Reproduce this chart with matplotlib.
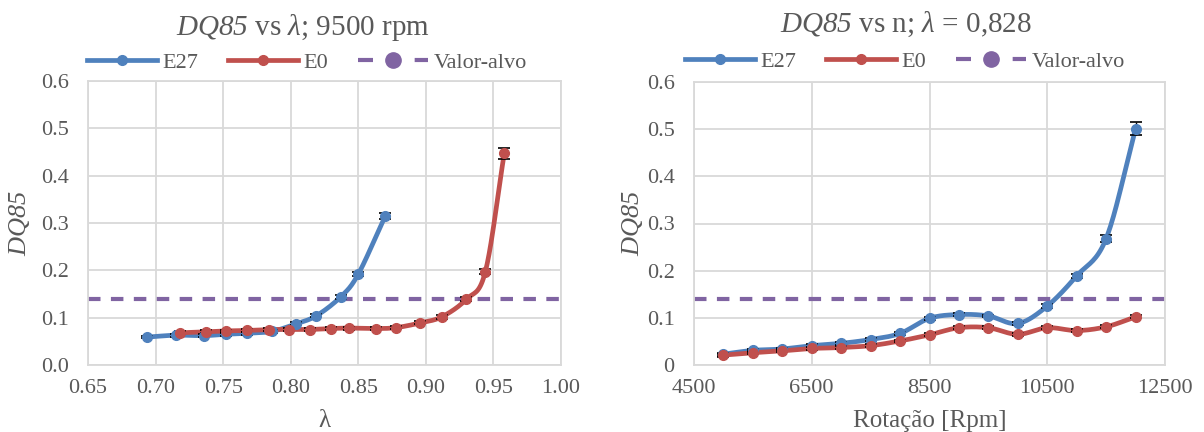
import numpy as np
import matplotlib
matplotlib.use('Agg')
from matplotlib import pyplot as plt
from matplotlib.lines import Line2D

plt.rcParams['font.family'] = ['Liberation Serif', 'DejaVu Serif']
plt.rcParams['mathtext.fontset'] = 'custom'
plt.rcParams['mathtext.rm'] = 'Liberation Serif'
plt.rcParams['mathtext.it'] = 'Liberation Serif:italic'
# sf slot used for fully italic names (digits included)
plt.rcParams['mathtext.sf'] = 'Liberation Serif:italic'

# DQ85 vs lambda, 9500 rpm
lam_e27 = [0.694, 0.715, 0.736, 0.752, 0.768, 0.786, 0.804, 0.819, 0.837, 0.850, 0.870]
dq_lam_e27 = [0.059, 0.063, 0.062, 0.065, 0.067, 0.071, 0.087, 0.104, 0.144, 0.192, 0.315]
err_lam_e27 = [0.003, 0.003, 0.003, 0.003, 0.003, 0.003, 0.003, 0.003, 0.004, 0.005, 0.007]

lam_e0 = [0.718, 0.737, 0.752, 0.768, 0.784, 0.799, 0.814, 0.830, 0.843, 0.863, 0.878,
          0.896, 0.912, 0.930, 0.944, 0.958]
dq_lam_e0 = [0.068, 0.070, 0.072, 0.073, 0.075, 0.075, 0.075, 0.077, 0.078, 0.077, 0.079,
             0.089, 0.102, 0.139, 0.197, 0.447]
err_lam_e0 = [0.003, 0.003, 0.003, 0.003, 0.003, 0.003, 0.003, 0.003, 0.003, 0.003, 0.003,
              0.003, 0.004, 0.004, 0.005, 0.012]

# DQ85 vs rotation, lambda = 0.828
rpm = [5000, 5500, 6000, 6500, 7000, 7500, 8000, 8500, 9000, 9500, 10000, 10500, 11000, 11500, 12000]
dq_rpm_e27 = [0.023, 0.031, 0.034, 0.041, 0.046, 0.054, 0.067, 0.099, 0.107, 0.104, 0.088,
              0.125, 0.189, 0.268, 0.501]
err_rpm_e27 = [0.003, 0.003, 0.003, 0.003, 0.003, 0.003, 0.003, 0.003, 0.003, 0.003, 0.003,
               0.004, 0.004, 0.007, 0.014]
dq_rpm_e0 = [0.021, 0.026, 0.030, 0.035, 0.037, 0.041, 0.051, 0.064, 0.079, 0.079, 0.065,
             0.079, 0.073, 0.081, 0.102]
err_rpm_e0 = [0.003] * 15

target = 0.14

BLUE = '#4F81BD'
RED = '#C0504D'
PURPLE = '#8064A2'
GRID = '#D9D9D9'
TXT = '#595959'


def smooth(x, y, n=20):
    # catmull-rom curve through the points, like a smoothed spreadsheet line
    x = np.asarray(x, float)
    y = np.asarray(y, float)
    px = np.concatenate([[2 * x[0] - x[1]], x, [2 * x[-1] - x[-2]]])
    py = np.concatenate([[2 * y[0] - y[1]], y, [2 * y[-1] - y[-2]]])
    t = np.linspace(0, 1, n, endpoint=False)
    xs, ys = [], []
    for i in range(1, len(px) - 2):
        for p, out in ((px, xs), (py, ys)):
            p0, p1, p2, p3 = p[i - 1], p[i], p[i + 1], p[i + 2]
            out.extend(0.5 * (2 * p1 + (-p0 + p2) * t + (2 * p0 - 5 * p1 + 4 * p2 - p3) * t ** 2
                              + (-p0 + 3 * p1 - 3 * p2 + p3) * t ** 3))
    xs.append(x[-1])
    ys.append(y[-1])
    return xs, ys


def series(ax, x, y, err, color):
    sx, sy = smooth(x, y)
    ax.plot(sx, sy, color=color, lw=3.4, solid_capstyle='round', zorder=3)
    ax.errorbar(x, y, yerr=err, fmt='none', ecolor='black', elinewidth=1, capsize=4,
                capthick=1.2, zorder=3.5)
    ax.plot(x, y, 'o', color=color, ms=7, zorder=4)


def style(ax):
    ax.grid(True, color=GRID, lw=1.3)
    ax.set_axisbelow(True)
    for s in ax.spines.values():
        s.set_color(GRID)
        s.set_linewidth(1.3)
    ax.tick_params(length=0, labelsize=16, labelcolor=TXT)
    ax.tick_params(axis='y', pad=14)
    ax.tick_params(axis='x', pad=10)
    ax.set_ylim(0, 0.6)
    ax.set_yticks(np.arange(0, 0.61, 0.1))


fig = plt.figure(figsize=(12.04, 4.32), dpi=100)
ax1 = fig.add_axes([88 / 1204, 67 / 432, 473 / 1204, 284 / 432])
ax2 = fig.add_axes([694 / 1204, 67 / 432, 471 / 1204, 283 / 432])

style(ax1)
ax1.set_xlim(0.65, 1.0)
ax1.set_xticks(np.arange(0.65, 1.001, 0.05))
ax1.set_xticklabels([f'{v:.2f}' for v in np.arange(0.65, 1.001, 0.05)])
ax1.set_yticklabels([f'{v:.1f}' for v in np.arange(0, 0.61, 0.1)])
ax1.axhline(target, color=PURPLE, lw=3, ls=(0, (3, 2.5)), zorder=2)
series(ax1, lam_e27, dq_lam_e27, err_lam_e27, BLUE)
series(ax1, lam_e0, dq_lam_e0, err_lam_e0, RED)
ax1.set_xlabel('λ', fontsize=18, color=TXT)
ax1.set_ylabel(r'$\mathsf{DQ85}$', fontsize=19, color=TXT)
ax1.xaxis.set_label_coords(0.5, -0.16)
ax1.yaxis.set_label_coords(-0.118, 0.5)

style(ax2)
ax2.set_xlim(4500, 12500)
ax2.set_xticks(range(4500, 12501, 2000))
ax2.set_yticklabels(['0', '0.1', '0.2', '0.3', '0.4', '0.5', '0.6'])
ax2.axhline(target, color=PURPLE, lw=3, ls=(0, (3, 2.5)), zorder=2)
series(ax2, rpm, dq_rpm_e27, err_rpm_e27, BLUE)
series(ax2, rpm, dq_rpm_e0, err_rpm_e0, RED)
ax2.set_xlabel('Rotação [Rpm]', fontsize=18, color=TXT)
ax2.set_ylabel(r'$\mathsf{DQ85}$', fontsize=19, color=TXT)
ax2.xaxis.set_label_coords(0.5, -0.16)
ax2.yaxis.set_label_coords(-0.104, 0.5)

fig.text(303 / 1204, 1 - 35 / 432, r'$\mathsf{DQ85}$ vs $\lambda$; 9500 rpm', fontsize=21,
         color=TXT, ha='center', va='baseline')
fig.text(906 / 1204, 1 - 32 / 432, r'$\mathsf{DQ85}$ vs n; $\lambda$ = 0,828', fontsize=21,
         color=TXT, ha='center', va='baseline')

handles = [Line2D([], [], color=BLUE, lw=3.4, marker='o', ms=7),
           Line2D([], [], color=RED, lw=3.4, marker='o', ms=7),
           Line2D([], [], color=PURPLE, lw=3, ls=(0, (3.6, 10)), marker='o', ms=11)]
labels = ['E27', 'E0', 'Valor-alvo']
for cx, cy in ((307, 63), (905, 62)):
    fig.legend(handles, labels, loc='center', bbox_to_anchor=(cx / 1204, 1 - cy / 432),
               ncol=3, frameon=False, fontsize=16, labelcolor=TXT, handlelength=3.15,
               handletextpad=0.25, columnspacing=1.35, borderpad=0)

fig.savefig('out.png', dpi=100)
